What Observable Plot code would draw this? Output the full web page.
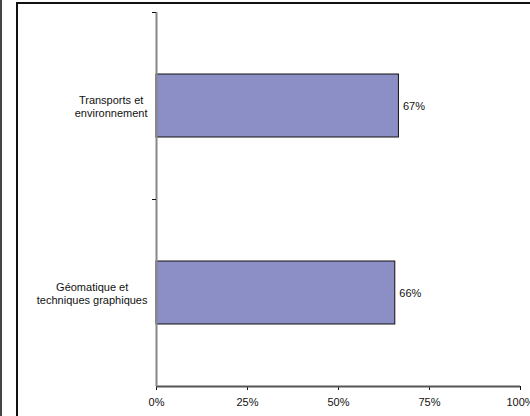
<!DOCTYPE html>
<html><head><meta charset="utf-8">
<script src="https://cdn.jsdelivr.net/npm/d3@7"></script>
<script src="https://cdn.jsdelivr.net/npm/@observablehq/plot@0.6"></script>
<style>
html,body{margin:0;padding:0;background:#fff;overflow:hidden;}
#wrap{position:relative;width:530px;height:416px;overflow:hidden;}
#lineL{position:absolute;left:0;top:0;width:2px;height:416px;background:#444;}
#frame{position:absolute;left:16px;top:2px;width:600px;height:600px;border-left:2px solid #111;border-top:2px solid #111;}
#chart{position:absolute;left:0;top:0;}
</style></head><body>
<div id="wrap"><div id="lineL"></div><div id="frame"></div><div id="chart"></div></div>
<script>
const categories = ["Transports et\nenvironnement", "Géomatique et\ntechniques graphiques"];
const values = [0.666, 0.656];
const xTicks = [0, 0.25, 0.5, 0.75, 1];

const data = categories.map((c, i) => ({category: c, value: values[i], row: i}));
const pct = d3.format(".0%");

const plot = Plot.plot({
  width: 530, height: 416,
  marginLeft: 156, marginRight: 10, marginTop: 12, marginBottom: 30,
  style: {fontFamily: "'Liberation Sans', Arial, sans-serif", fontSize: "11px", color: "#111", background: "transparent", overflow: "visible"},
  x: {domain: [0, 1]},
  y: {domain: [0, categories.length], reverse: true},
  marks: [
    Plot.rectX(data, {x1: 0, x2: "value", y1: "row", y2: d => d.row + 1, insetTop: 62, insetBottom: 62, fill: "#8b8fc6", stroke: "#111", strokeWidth: 1}),
    Plot.text(data, {x: "value", y: d => d.row + 0.5, text: d => pct(d.value), textAnchor: "start", dx: 4, fill: "#111"}),
    Plot.text(data, {x: 0, y: d => d.row + 0.5, text: "category", textAnchor: "end", dx: -9, lineHeight: 1.2, fill: "#111", className: "catlab"}),
    Plot.axisX({ticks: xTicks, tickFormat: pct, tickSize: 4, tickPadding: 8, color: "#111", label: null}),
    Plot.ruleY([categories.length], {stroke: "#555", strokeWidth: 2}),
    Plot.ruleX([0], {stroke: "#888", strokeWidth: 2}),
    Plot.axisY({ticks: d3.range(categories.length), tickFormat: () => "", tickSize: 4, color: "#111", label: null})
  ]
});
document.getElementById("chart").appendChild(plot);

// center-align the lines of each category label within its right-aligned block
d3.select(plot).selectAll(".catlab text").each(function() {
  const spans = Array.from(this.querySelectorAll("tspan"));
  if (!spans.length) return;
  const widths = spans.map(s => s.getComputedTextLength());
  const maxW = Math.max(...widths);
  spans.forEach((s, i) => s.setAttribute("x", -(maxW - widths[i]) / 2));
});
</script>
</body></html>
